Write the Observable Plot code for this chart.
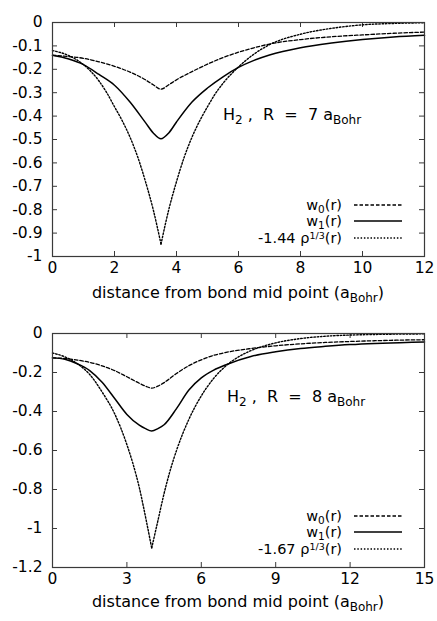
<!DOCTYPE html>
<html><head><meta charset="utf-8">
<script src="https://cdn.jsdelivr.net/npm/d3@7"></script>
<script src="https://cdn.jsdelivr.net/npm/@observablehq/plot@0.6"></script>
<style>
body{margin:0;background:#fff;width:437px;}
svg{display:block}
</style></head><body><div id="top"></div><div id="bot"></div>
<script>
// ---------- Panel 1: H2, R = 7 aBohr ----------
const xTop = [0,0.5,1,1.5,2,2.5,3,3.25,3.5,3.75,4,4.5,5,5.5,6,6.5,7,8,9,10,11,12];
const w0Top = [-0.14,-0.145,-0.153,-0.168,-0.187,-0.212,-0.245,-0.266,-0.285,-0.266,-0.245,-0.21,-0.178,-0.15,-0.127,-0.108,-0.092,-0.073,-0.061,-0.053,-0.046,-0.041];
const w1Top = [-0.14,-0.155,-0.18,-0.222,-0.268,-0.34,-0.428,-0.472,-0.497,-0.472,-0.425,-0.34,-0.28,-0.232,-0.192,-0.162,-0.139,-0.108,-0.088,-0.073,-0.062,-0.055];
const xRhoTop = [0,0.5,1,1.5,1.75,2,2.25,2.5,2.75,3,3.25,3.5,3.75,4,4.25,4.5,4.75,5,5.25,5.5,6,6.5,7,8,9,10,11,12];
const rhoTop = [-0.12,-0.14,-0.18,-0.25,-0.3,-0.36,-0.42,-0.49,-0.575,-0.68,-0.80,-0.947,-0.80,-0.68,-0.575,-0.49,-0.42,-0.36,-0.305,-0.26,-0.19,-0.135,-0.095,-0.05,-0.025,-0.01,-0.004,-0.001];
const rhoPeakTop = 3.5;
const xTicksTop = [0,2,4,6,8,10,12];
const yTicksTop = [0,-0.1,-0.2,-0.3,-0.4,-0.5,-0.6,-0.7,-0.8,-0.9,-1];

// ---------- Panel 2: H2, R = 8 aBohr ----------
const xBot = [0,0.5,1,1.5,2,2.5,3,3.5,3.75,4,4.25,4.5,5,5.5,6,6.5,7,8,9,10,11,12,13,14,15];
const w0Bot = [-0.125,-0.128,-0.136,-0.148,-0.166,-0.19,-0.222,-0.255,-0.27,-0.28,-0.27,-0.252,-0.205,-0.165,-0.135,-0.112,-0.097,-0.077,-0.063,-0.053,-0.046,-0.041,-0.037,-0.034,-0.032];
const w1Bot = [-0.125,-0.132,-0.155,-0.19,-0.25,-0.332,-0.415,-0.47,-0.488,-0.50,-0.488,-0.468,-0.385,-0.29,-0.228,-0.188,-0.16,-0.118,-0.094,-0.077,-0.066,-0.057,-0.051,-0.047,-0.043];
const xRhoBot = [0,0.5,1,1.5,2,2.5,3,3.25,3.5,3.75,4,4.25,4.5,4.75,5,5.5,6,6.5,7,7.5,8,9,10,11,12,13,14,15];
const rhoBot = [-0.10,-0.12,-0.155,-0.21,-0.30,-0.41,-0.57,-0.67,-0.79,-0.94,-1.10,-0.96,-0.82,-0.70,-0.60,-0.44,-0.32,-0.23,-0.165,-0.12,-0.088,-0.048,-0.026,-0.014,-0.008,-0.005,-0.003,-0.002];
const rhoPeakBot = 4;
const xTicksBot = [0,3,6,9,12,15];
const yTicksBot = [0,-0.2,-0.4,-0.6,-0.8,-1,-1.2];

const FONT = "'DejaVu Sans', 'Liberation Sans', sans-serif";
const FS = 15.5;
const FRAME = "#3a3a3a";

function rows(xs, ys) { return xs.map((x, i) => ({x, y: ys[i]})); }
function branches(xs, ys, peak) {
  const out = [];
  xs.forEach((x, i) => {
    if (x <= peak) out.push({x, y: ys[i], b: "L"});
    if (x >= peak) out.push({x, y: ys[i], b: "R"});
  });
  return out;
}

function panel(el, o) {
  const W = 437, mL = 52, mR = 13, ih = 234;
  const mB = o.height - o.mTop - ih;
  const iw = W - mL - mR, tk = 5;
  const fig = Plot.plot({
    width: W, height: o.height,
    marginLeft: mL, marginRight: mR, marginTop: o.mTop, marginBottom: mB,
    style: {fontFamily: FONT, fontSize: FS + "px", color: "#000", background: "#fff", overflow: "visible"},
    x: {domain: o.xDomain, label: null},
    y: {domain: o.yDomain, label: null},
    marks: [
      Plot.tickY(o.yTicks, {y: d => d, insetRight: iw - tk, stroke: FRAME}),
      Plot.tickY(o.yTicks, {y: d => d, insetLeft: iw - tk, stroke: FRAME}),
      Plot.tickX(o.xTicks, {x: d => d, insetTop: ih - tk, stroke: FRAME}),
      Plot.tickX(o.xTicks, {x: d => d, insetBottom: ih - tk, stroke: FRAME}),
      Plot.axisY(o.yTicks, {tickSize: 0, tickPadding: 10, tickFormat: d => String(d), fontSize: FS, label: null}),
      Plot.axisX(o.xTicks, {tickSize: 0, tickPadding: 5, tickFormat: d => String(d), fontSize: FS, label: null}),
      Plot.line(rows(o.xs, o.w0), {x: "x", y: "y", curve: "monotone-x", stroke: "#000", strokeWidth: 1.3, strokeDasharray: "3.5,2"}),
      Plot.line(rows(o.xs, o.w1), {x: "x", y: "y", curve: "monotone-x", stroke: "#000", strokeWidth: 1.5}),
      Plot.line(branches(o.xr, o.rho, o.peak), {x: "x", y: "y", z: "b", curve: "monotone-x", stroke: "#000", strokeWidth: 1.4, strokeDasharray: "1.5,1.8"}),
      Plot.frame({stroke: FRAME, strokeWidth: 1.2})
    ]
  });
  const svg = d3.select(fig);
  const g = svg.append("g").attr("font-family", FONT).attr("fill", "#000")
    .attr("text-anchor", "start").style("white-space", "pre");
  // annotation
  const ann = g.append("text").attr("x", o.annX).attr("y", o.annY).attr("font-size", 16).attr("text-anchor", "start");
  ann.append("tspan").text("H");
  ann.append("tspan").attr("font-size", 12).attr("dy", 4).text("2");
  ann.append("tspan").attr("dy", -4).text(" ,  R  =  " + o.R + " a");
  ann.append("tspan").attr("font-size", 12).attr("dy", 4).text("Bohr");
  // legend
  const lx = 342, l1 = 354, l2 = 402;
  const ys = [o.mTop + 188, o.mTop + 204, o.mTop + 221];
  const dashes = ["3.5,2", null, "1.5,1.8"];
  const widths = [1.3, 1.5, 1.4];
  const labels = [["w", "0"], ["w", "1"], null];
  ys.forEach((y, i) => {
    const t = g.append("text").attr("x", lx).attr("y", y).attr("text-anchor", "end").attr("font-size", 14.5);
    if (labels[i]) {
      t.append("tspan").text(labels[i][0]);
      t.append("tspan").attr("font-size", 10.5).attr("dy", 2.5).text(labels[i][1]);
      t.append("tspan").attr("dy", -2.5).text("(r)");
    } else {
      t.append("tspan").text(o.coef + " \u03c1");
      t.append("tspan").attr("font-size", 9.5).attr("dy", -4).text("1/3");
      t.append("tspan").attr("dy", 4).text("(r)");
    }
    const ln = g.append("line").attr("x1", l1).attr("x2", l2).attr("y1", y - 5).attr("y2", y - 5)
      .attr("stroke", "#000").attr("stroke-width", widths[i]);
    if (dashes[i]) ln.attr("stroke-dasharray", dashes[i]);
  });
  // x-axis title
  const tt = g.append("text").attr("x", (mL + W - mR) / 2).attr("y", o.titleY).attr("text-anchor", "middle").attr("font-size", 16);
  tt.append("tspan").text("distance from bond mid point (a");
  tt.append("tspan").attr("font-size", 12).attr("dy", 4).text("Bohr");
  tt.append("tspan").attr("dy", -4).text(")");
  document.getElementById(el).appendChild(fig);
}

panel("top", {height: 310, mTop: 22, xDomain: [0, 12], yDomain: [-1, 0],
  xTicks: xTicksTop, yTicks: yTicksTop, xs: xTop, w0: w0Top, w1: w1Top,
  xr: xRhoTop, rho: rhoTop, peak: rhoPeakTop, R: 7, coef: "-1.44",
  annX: 223, annY: 120, titleY: 298});
panel("bot", {height: 311, mTop: 23, xDomain: [0, 15], yDomain: [-1.2, 0],
  xTicks: xTicksBot, yTicks: yTicksBot, xs: xBot, w0: w0Bot, w1: w1Bot,
  xr: xRhoBot, rho: rhoBot, peak: rhoPeakBot, R: 8, coef: "-1.67",
  annX: 227, annY: 92, titleY: 297});
</script>
</body></html>
